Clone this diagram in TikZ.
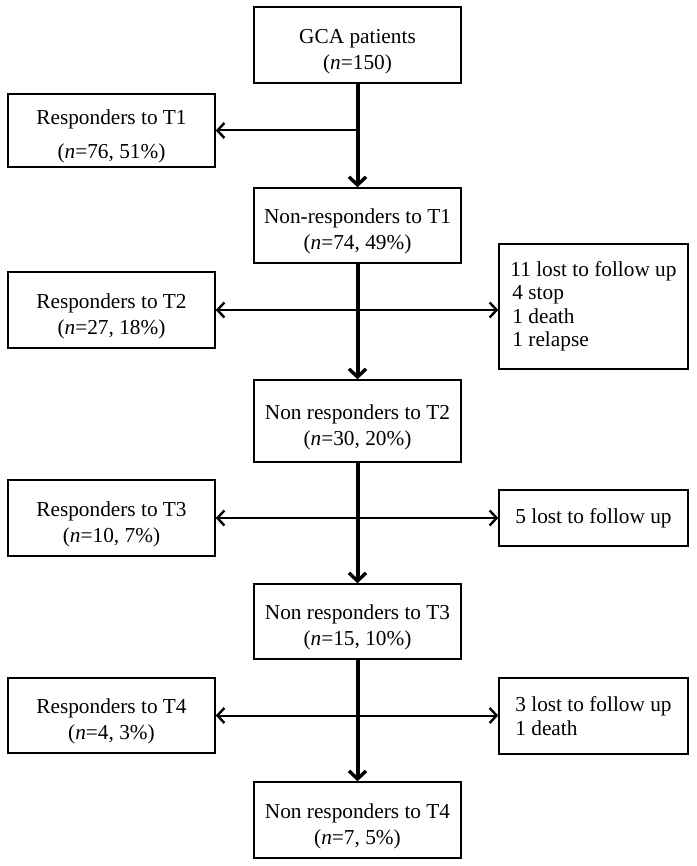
\documentclass[tikz,border=0pt]{standalone}
\usepackage{fontspec}
\setmainfont{Liberation Serif}
\usetikzlibrary{
  arrows.meta,
  positioning
}
\newcommand{\topgap}{\rule{0pt}{27pt}}
\tikzset{
>={Straight Barb[length=7pt,width=15pt,line width=2.4pt]},
box/.style={draw, line width=1.5pt, align=center, inner sep=0pt,
  minimum width=207pt, minimum height=76pt,
  font=\fontsize{21.3}{26}\selectfont},
lostbox/.style={box, align=left, minimum width=189pt,
  font=\fontsize{21.3}{23.5}\selectfont},
trunk/.style={line width=4pt, -{Straight Barb[length=8pt,width=17pt,line width=3.4pt]}},
side/.style={line width=2pt}
}

\begin{document}
\begin{tikzpicture}[x=1pt, y=-1pt]
 \useasboundingbox (0,0) rectangle (696,866);
 % main column
 \node[box] (gca) at (357.5,45) {\topgap GCA patients\\(\textit{n}=150)};
 \node[box, minimum height=75pt] (nr1) at (357.5,225.5) {\topgap Non-responders to T1\\(\textit{n}=74, 49\%)};
 \node[box, minimum height=82pt] (nr2) at (357.5,421) {\topgap Non responders to T2\\(\textit{n}=30, 20\%)};
 \node[box, minimum height=75pt] (nr3) at (357.5,621.5) {\topgap Non responders to T3\\(\textit{n}=15, 10\%)};
 \node[box] (nr4) at (357.5,820) {\topgap Non responders to T4\\(\textit{n}=7, 5\%)};
 % responders
 \node[box, minimum height=73pt] (r1) at (111.5,130.5) {\topgap Responders to T1\\[8pt](\textit{n}=76, 51\%)};
 \node[box] (r2) at (111.5,310) {\topgap Responders to T2\\(\textit{n}=27, 18\%)};
 \node[box] (r3) at (111.5,518) {\topgap Responders to T3\\(\textit{n}=10, 7\%)};
 \node[box, minimum height=75pt] (r4) at (111.5,715.5) {\topgap Responders to T4\\(\textit{n}=4, 3\%)};
 % lost
 \node[lostbox, minimum height=125pt] (l2) at (593.5,306.5) {11 lost to follow up\\\hspace*{2pt}4 stop\\\hspace*{2pt}1 death\\\hspace*{2pt}1 relapse};
 \node[lostbox, minimum height=56pt] (l3) at (593.5,518) {5 lost to follow up};
 \node[lostbox] (l4) at (593.5,716) {3 lost to follow up\\1 death};
 % arrows
 \draw[trunk] (gca) -- (nr1);
 \draw[trunk] (nr1) -- (nr2);
 \draw[trunk] (nr2) -- (nr3);
 \draw[trunk] (nr3) -- (nr4);
 \draw[side,->] (gca.south |- r1.east) -- (r1.east);
 \draw[side,<->] (r2.east) -- (l2.west |- r2.east);
 \draw[side,<->] (r3) -- (l3);
 \draw[side,<->] (r4) -- (l4.west |- r4.east);
\end{tikzpicture}
\end{document}
